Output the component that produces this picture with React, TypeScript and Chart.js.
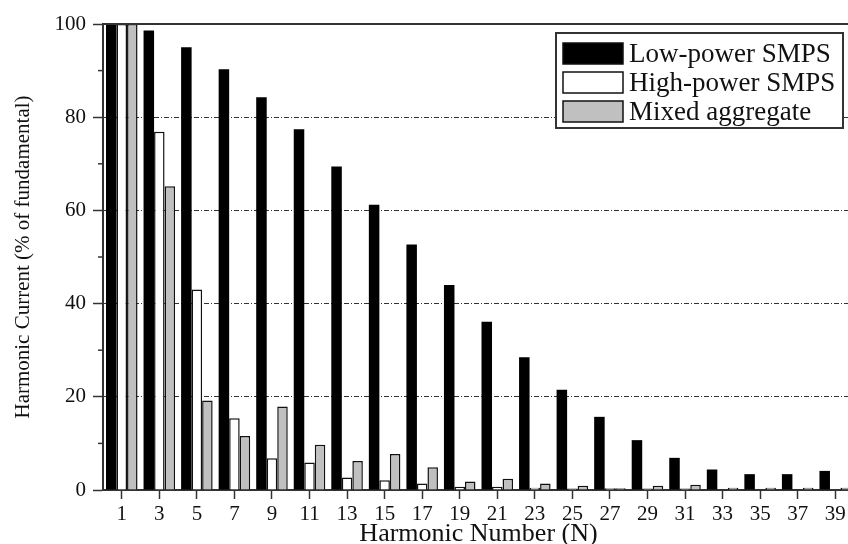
import React, { useEffect, useRef } from 'react';
import { Chart, registerables } from 'chart.js';

Chart.register(...registerables);

const harmonics = ['1', '3', '5', '7', '9', '11', '13', '15', '17', '19', '21', '23', '25', '27', '29', '31', '33', '35', '37', '39'];
const lowPower = [100, 98.6, 95.0, 90.3, 84.3, 77.4, 69.4, 61.2, 52.7, 44.0, 36.1, 28.5, 21.5, 15.7, 10.7, 6.9, 4.4, 3.4, 3.4, 4.1];
const highPower = [100, 76.9, 43.0, 15.4, 6.8, 5.9, 2.7, 2.1, 1.4, 0.7, 0.7, 0.5, 0.3, 0.4, 0.3, 0.3, 0.1, 0.1, 0.1, 0.1];
const mixed = [100, 65.2, 19.2, 11.6, 17.9, 9.7, 6.2, 7.7, 4.9, 1.8, 2.4, 1.4, 0.9, 0.4, 0.9, 1.1, 0.5, 0.5, 0.5, 0.5];
const minorYTicks = [10, 30, 50, 70, 90];

const FONT = "'Liberation Serif', 'Times New Roman', serif";
const INK = '#111';
const AXIS = '#333';

export default function App() {
  const ref = useRef<HTMLCanvasElement>(null);

  useEffect(() => {
    if (!ref.current) return;

    const framePlugin = {
      id: 'frame',
      afterDatasetsDraw(chart: any) {
        const { ctx, chartArea } = chart;
        ctx.save();
        ctx.strokeStyle = AXIS;
        ctx.lineWidth = 2;
        ctx.beginPath();
        ctx.moveTo(chartArea.left, chartArea.top);
        ctx.lineTo(chartArea.right, chartArea.top);
        ctx.lineTo(chartArea.right, chartArea.bottom);
        ctx.stroke();
        const y = chart.scales.y;
        ctx.lineWidth = 1.5;
        minorYTicks.forEach((v) => {
          const py = y.getPixelForValue(v);
          ctx.beginPath();
          ctx.moveTo(chartArea.left - 5, py);
          ctx.lineTo(chartArea.left, py);
          ctx.stroke();
        });
        ctx.restore();
      },
    };

    const legendPlugin = {
      id: 'boxLegend',
      afterDraw(chart: any) {
        const { ctx, chartArea } = chart;
        const right = chartArea.right - 11;
        const left = right - 287;
        const top = chartArea.top + 9;
        const h = 95;
        ctx.save();
        ctx.fillStyle = '#fff';
        ctx.fillRect(left, top, right - left, h);
        ctx.strokeStyle = AXIS;
        ctx.lineWidth = 2;
        ctx.strokeRect(left, top, right - left, h);
        chart.data.datasets.forEach((ds: any, i: number) => {
          const cy = top + 20.5 + i * 29;
          ctx.fillStyle = ds.backgroundColor;
          ctx.fillRect(left + 7, cy - 10.5, 60, 21);
          ctx.strokeStyle = INK;
          ctx.lineWidth = 1.5;
          ctx.strokeRect(left + 7, cy - 10.5, 60, 21);
          ctx.fillStyle = INK;
          ctx.font = `27px ${FONT}`;
          ctx.textBaseline = 'middle';
          ctx.textAlign = 'left';
          ctx.fillText(ds.label, left + 73, cy + 1);
        });
        ctx.restore();
      },
    };

    const chart = new Chart(ref.current, {
      type: 'bar',
      data: {
        labels: harmonics,
        datasets: [
          { label: 'Low-power SMPS', data: lowPower, backgroundColor: '#000000', borderColor: '#000000', borderWidth: 0 },
          { label: 'High-power SMPS', data: highPower, backgroundColor: '#ffffff', borderColor: INK, borderWidth: 1.5 },
          { label: 'Mixed aggregate', data: mixed, backgroundColor: '#c0c0c0', borderColor: INK, borderWidth: 1.5 },
        ],
      },
      options: {
        animation: false,
        responsive: false,
        maintainAspectRatio: false,
        layout: { padding: { left: 0, right: 6, top: 24, bottom: 0 } },
        datasets: { bar: { categoryPercentage: 0.84, barPercentage: 1 } },
        plugins: { legend: { display: false }, tooltip: { enabled: false } },
        scales: {
          x: {
            type: 'category',
            grid: { offset: false, drawOnChartArea: false, drawTicks: true, tickLength: 9, tickColor: AXIS, tickWidth: 1.5 },
            border: { color: AXIS, width: 2 },
            ticks: { font: { family: FONT, size: 21 }, color: INK, padding: 3, maxRotation: 0, autoSkip: false },
            title: {
              display: true,
              text: 'Harmonic Number (N)',
              font: { family: FONT, size: 26, lineHeight: 0.76 },
              color: INK,
              padding: { top: 0, bottom: 0 },
            },
            afterFit: (s: any) => { s.height = 54; },
          },
          y: {
            min: 0,
            max: 100,
            ticks: { stepSize: 20, font: { family: FONT, size: 21 }, color: INK, padding: 7 },
            grid: {
              color: (c: any) => (c.tick && (c.tick.value === 0 || c.tick.value === 100) ? 'rgba(0,0,0,0)' : '#333'),
              lineWidth: 1,
              tickColor: AXIS,
              tickLength: 10,
              tickWidth: 1.5,
            },
            border: { color: AXIS, width: 2, dash: [5, 2, 1, 2] },
            title: {
              display: true,
              text: 'Harmonic Current (% of fundamental)',
              font: { family: FONT, size: 21 },
              color: INK,
              padding: { top: 11, bottom: 0 },
            },
            afterFit: (s: any) => { s.width = 103; },
          },
        },
      },
      plugins: [framePlugin, legendPlugin],
    } as any);

    return () => chart.destroy();
  }, []);

  return (
    <div style={{ position: 'absolute', left: 0, top: 0, width: 848, height: 544, overflow: 'hidden', background: '#fff' }}>
      <canvas ref={ref} width={860} height={544} style={{ display: 'block' }} />
    </div>
  );
}
